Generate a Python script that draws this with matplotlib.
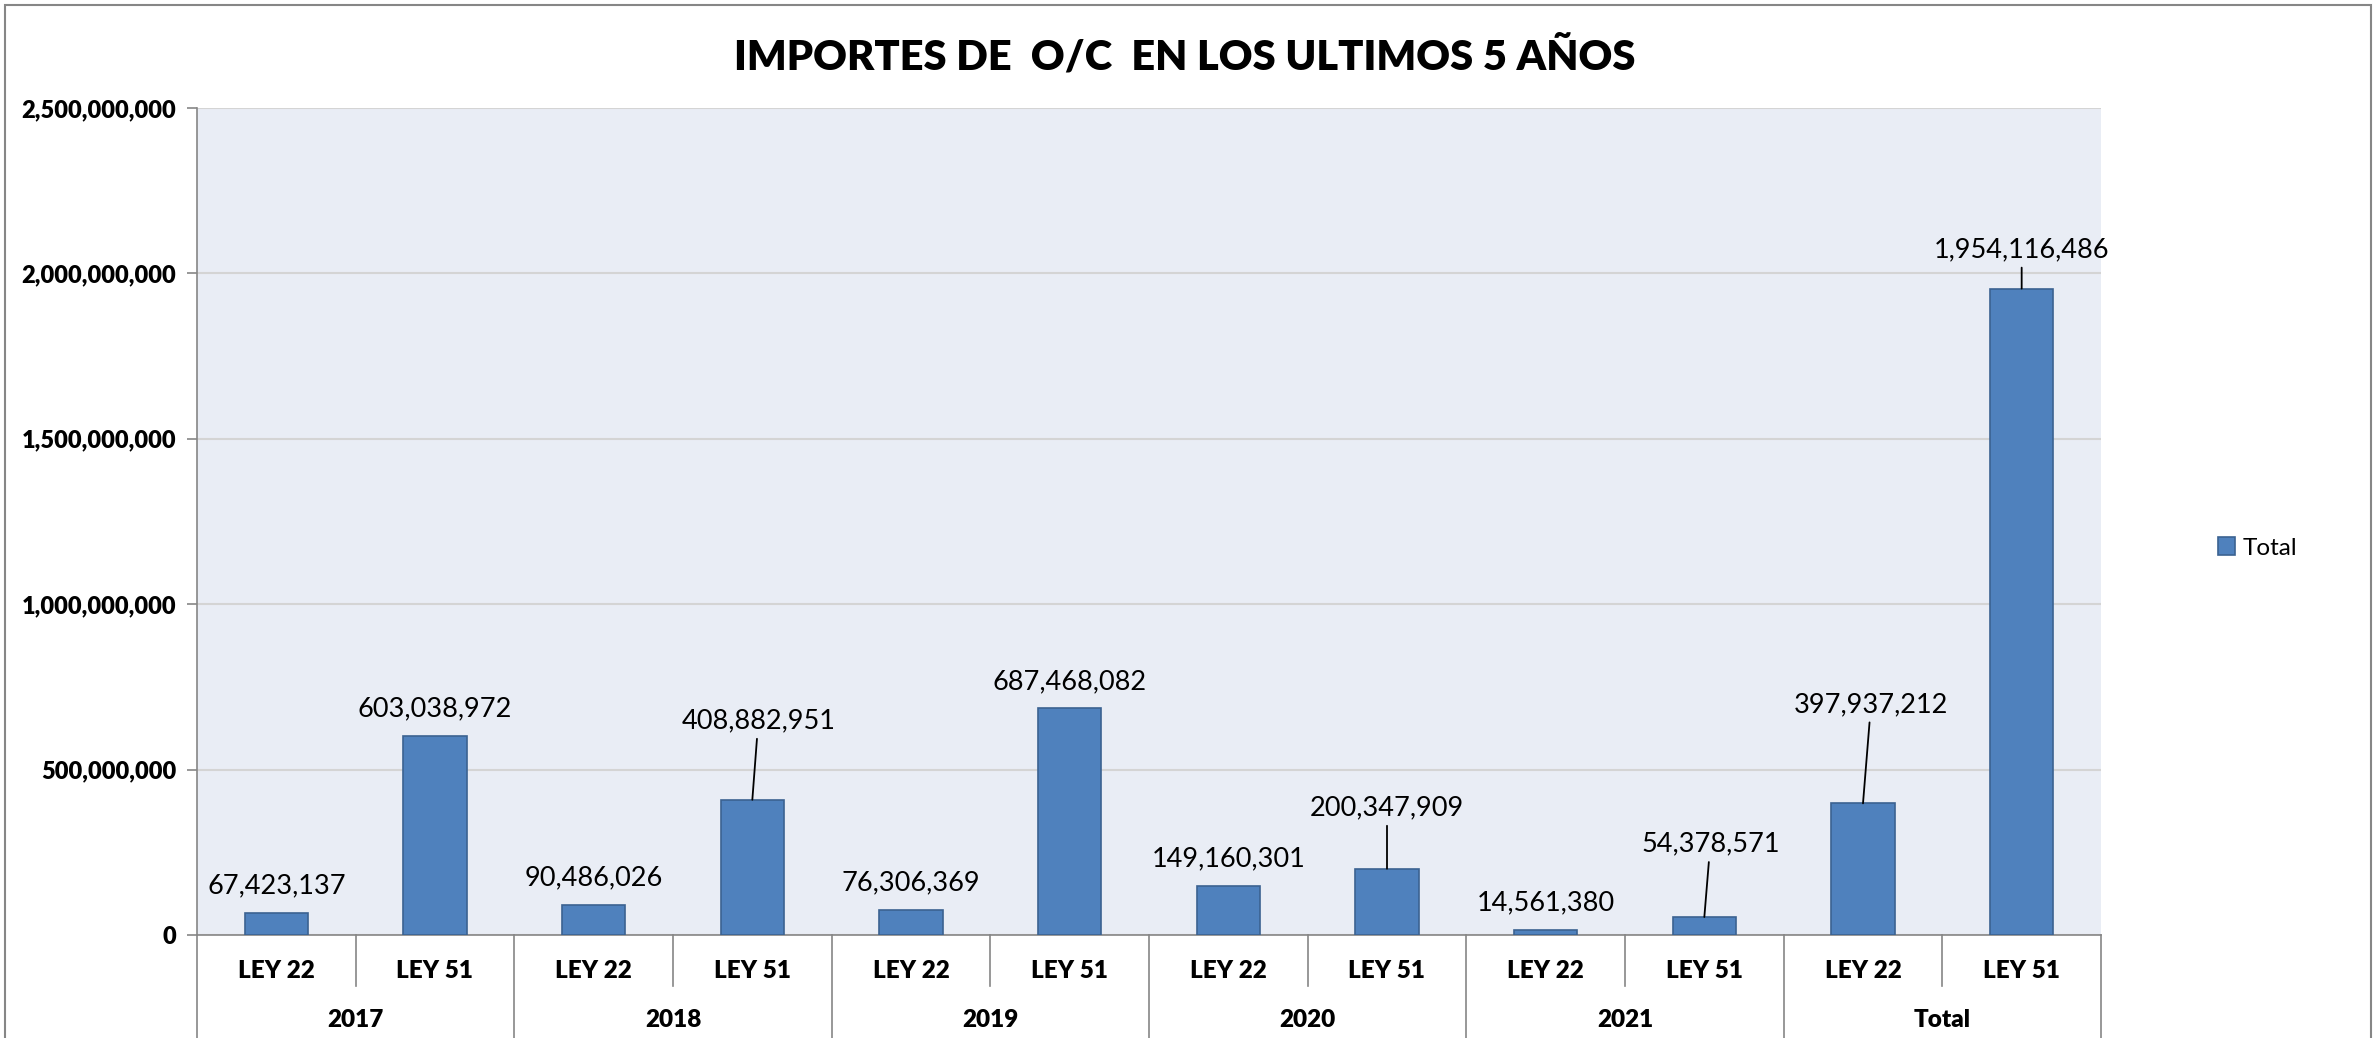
import matplotlib.pyplot as plt
import matplotlib.patches as patches
from matplotlib.ticker import FuncFormatter

years = ['2017', '2018', '2019', '2020', '2021', 'Total']
leyes = ['LEY 22', 'LEY 51']
importes = [67423137, 603038972,
            90486026, 408882951,
            76306369, 687468082,
            149160301, 200347909,
            14561380, 54378571,
            397937212, 1954116486]

# label offsets from bar top, in pixels (dx, dy) and whether excel drew a leader line
lbl_off = [(0, 27), (0, 27), (0, 27), (6, 79), (0, 27), (0, 26),
           (0, 27), (0, 61), (0, 27), (6, 73), (8, 99), (0, 39)]
leader = [False, False, False, True, False, False,
          False, True, False, True, True, True]

plt.rcParams['font.family'] = ['Lato', 'DejaVu Sans']

fig = plt.figure(figsize=(23.79, 10.38), dpi=100)
ax = fig.add_axes([197/2379, 1-935/1038, (2101-197)/2379, (935-108)/1038])
ax.set_facecolor('#E9EDF5')

n = len(importes)
x = list(range(n))
bars = ax.bar(x, importes, width=0.40, color='#4F81BD', edgecolor='#3B6291',
              linewidth=1.2, zorder=3, label='Total')

ax.set_xlim(-0.5, n - 0.5)
ax.set_ylim(0, 2500000000)
ax.set_yticks([0, 500000000, 1000000000, 1500000000, 2000000000, 2500000000])
ax.yaxis.set_major_formatter(FuncFormatter(lambda v, p: '{:,.0f}'.format(v)))
ax.tick_params(axis='y', length=7, width=1.2, color='#868686', pad=8,
               labelsize=17)
for t in ax.get_yticklabels():
    t.set_fontweight('heavy')
ax.grid(axis='y', color='#D4D4D4', linewidth=1.5, zorder=0)
ax.set_xticks([])
for s in ['top', 'right']:
    ax.spines[s].set_visible(False)
ax.spines['left'].set_color('#868686')
ax.spines['bottom'].set_color('#868686')
ax.spines['left'].set_linewidth(1.2)
ax.spines['bottom'].set_linewidth(1.2)

# data labels
for i in range(n):
    dx, dy = lbl_off[i]
    ap = None
    if leader[i]:
        ap = dict(arrowstyle='-', color='black', lw=1.3, shrinkA=2, shrinkB=0)
    ax.annotate('{:,}'.format(importes[i]), xy=(x[i], importes[i]),
                xytext=(dx*0.72, dy*0.72), textcoords='offset points',
                ha='center', va='center', fontsize=19.5, color='black',
                arrowprops=ap, zorder=5)

# two level category axis
tr = ax.get_xaxis_transform()
h = (935-108)
y_ley = -(971-935)/h
y_year = -(1020-935)/h
y_short = -(986-935)/h
y_long = -(1040-935)/h
for i in range(n):
    ax.text(x[i], y_ley, leyes[i % 2], transform=tr, ha='center', va='center',
            fontsize=17.5, fontweight='heavy')
for j in range(len(years)):
    ax.text(2*j + 0.5, y_year, years[j], transform=tr, ha='center', va='center',
            fontsize=17.5, fontweight='heavy')
for k in range(n + 1):
    xb = k - 0.5
    yb = y_long if k % 2 == 0 else y_short
    ax.plot([xb, xb], [0, yb], transform=tr, color='#868686', lw=1.2,
            clip_on=False)

fig.text(1185/2379, 1-56/1038, 'IMPORTES DE  O/C  EN LOS ULTIMOS 5 AÑOS',
         ha='center', va='center', fontsize=30, fontweight='heavy')

fig.legend(handles=[bars], labels=['Total'], loc='center left',
           bbox_to_anchor=(2196/2379, 1-548/1038), frameon=False, fontsize=17.5,
           handlelength=0.7, handleheight=0.7, handletextpad=0.3)

# chart border
fig.patches.append(patches.Rectangle((5/2379, -0.02), (2371-5)/2379, 1.02-5/1038,
                                     transform=fig.transFigure, fill=False,
                                     edgecolor='#868686', lw=1.5))

fig.savefig('out.png', dpi=100)
